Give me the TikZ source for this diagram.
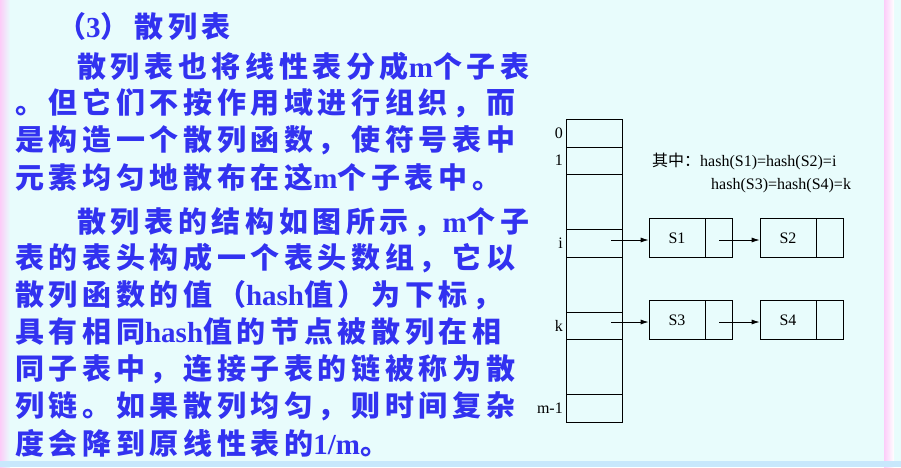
\documentclass[tikz,border=0pt]{standalone}
\usepackage{fontspec}
\setmainfont{Liberation Serif}
\newfontfamily\cjk[LetterSpace=16]{Noto Sans CJK SC}
\newfontfamily\cjkplain{Noto Sans CJK SC}
\newfontfamily\latb{Liberation Serif}
\newcommand{\lat}[1]{{\latb\bfseries #1}}
\usetikzlibrary{positioning,arrows.meta}
\definecolor{bgcyan}{HTML}{E8FCFC}
\definecolor{txtblue}{HTML}{3232F0}
\definecolor{stripe}{HTML}{FCCCF8}
\definecolor{bandblue}{HTML}{C8E8FC}
\tikzset{
  >={Latex[length=8pt,width=5pt]},
  line/.style={anchor=west, text=txtblue, font=\cjk\fontsize{29}{29}\selectfont\bfseries, inner sep=0pt},
  rec/.style={draw, thick, minimum width=56pt, minimum height=39pt, inner sep=0pt, font=\fontsize{16}{16}\selectfont},
  ptr/.style={draw, thick, minimum width=27pt, minimum height=39pt, inner sep=0pt},
  idx/.style={anchor=east, font=\fontsize{16}{16}\selectfont, inner sep=0pt},
  note/.style={anchor=west, font=\fontsize{16}{16}\selectfont, inner sep=0pt}
}
\begin{document}
\begin{tikzpicture}[x=1pt,y=-1pt]
  \useasboundingbox (0,0) rectangle (901,467);
  \fill[bgcyan] (0,0) rectangle (901,467);
  \shade[left color=stripe, right color=bgcyan] (0,0) rectangle (10,467);
  \shade[left color=stripe, right color=white] (884,0) rectangle (894,467);
  \fill[bandblue] (0,461) rectangle (901,467);

  % text on the left
  \node[line] (title) at (57,27) {（\lat{3}）\,散列表};
  \node[line] (l1) at (77,66) {散列表也将线性表分成\lat{m}个子表};
  \node[line] (l2) at (15,103) {。但它们不按作用域进行组织，而};
  \node[line] (l3) at (15,140) {是构造一个散列函数，使符号表中};
  \node[line] (l4) at (15,177) {元素均匀地散布在这\lat{m}个子表中。};
  \node[line] (l5) at (77,222) {散列表的结构如图所示，\lat{m}个子};
  \node[line] (l6) at (15,258) {表的表头构成一个表头数组，它以};
  \node[line] (l7) at (15,295) {散列函数的值（\lat{hash}值）为下标，};
  \node[line] (l8) at (15,332) {具有相同\lat{hash}值的节点被散列在相};
  \node[line] (l9) at (15,369) {同子表中，连接子表的链被称为散};
  \node[line] (l10) at (15,406) {列链。如果散列均匀，则时间复杂};
  \node[line] (l11) at (15,443) {度会降到原线性表的\lat{1/m}。};

  % header array
  \draw[thick] (566,119) rectangle (622,422);
  \foreach \yy in {147,174,229,257,312,339,394}
    \draw[thick] (566,\yy) -- (622,\yy);
  \coordinate (c0) at (566,133);
  \coordinate (c1) at (566,160);
  \coordinate (ci) at (566,243);
  \coordinate (ck) at (566,326);
  \coordinate (cm) at (566,408);
  \node[idx, left=3pt of c0] {0};
  \node[idx, left=3pt of c1] {1};
  \node[idx, left=3pt of ci] {i};
  \node[idx, left=3pt of ck] {k};
  \node[idx, left=3pt of cm] {m-1};

  % chains
  \node[rec] (s1) at (677,238) {S1};
  \node[ptr, right=0pt of s1] (p1) {};
  \node[rec] (s2) at (788,238) {S2};
  \node[ptr, right=0pt of s2] (p2) {};
  \node[rec] (s3) at (677,320) {S3};
  \node[ptr, right=0pt of s3] (p3) {};
  \node[rec] (s4) at (788,320) {S4};
  \node[ptr, right=0pt of s4] (p4) {};
  \coordinate (ai) at (611,240);
  \coordinate (ak) at (611,322);
  \draw[thick,->] (ai) -- (ai -| s1.west);
  \draw[thick,->] (p1.center |- ai) -- (ai -| s2.west);
  \draw[thick,->] (ak) -- (ak -| s3.west);
  \draw[thick,->] (p3.center |- ak) -- (ak -| s4.west);

  \node[note] (n1) at (652,161) {{\cjkplain 其中：}hash(S1)=hash(S2)=i};
  \node[note] (n2) at (711,186) {hash(S3)=hash(S4)=k};
\end{tikzpicture}
\end{document}
